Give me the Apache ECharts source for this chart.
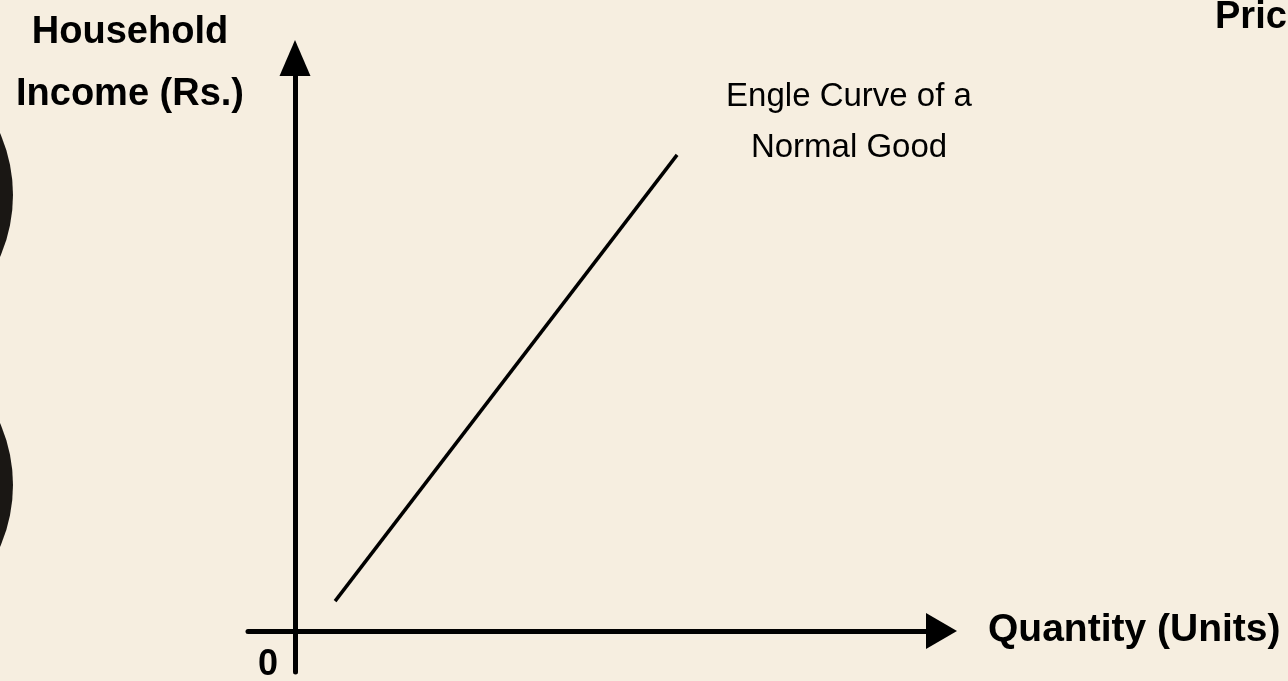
<!DOCTYPE html>
<html>
<head>
<meta charset="utf-8">
<title>Engle Curve</title>
<script src="https://cdn.jsdelivr.net/npm/echarts@6/dist/echarts.min.js"></script>
<style>
  html, body { margin: 0; padding: 0; background: #F6EEE0; }
  #main { width: 1288px; height: 681px; }
</style>
</head>
<body>
<div id="main"></div>
<script>
// Engle curve values
var quantity = [6.2, 59.1];
var income = [5.2, 83.1];
var xRange = [-7.27, 100];
var yRange = [-7.16, 100];

var FONT = '"Liberation Sans", Arial, sans-serif';
var INK = '#000';

var chart = echarts.init(document.getElementById('main'));

var lineData = [];
for (var i = 0; i < quantity.length; i++) {
  lineData.push([quantity[i], income[i]]);
}

function label(txt, x, y, size, bold, align) {
  return {
    type: 'text', x: x, y: y,
    style: {
      text: txt,
      font: (bold ? 'bold ' : '') + size + 'px ' + FONT,
      fill: INK,
      textAlign: align || 'center',
      textVerticalAlign: 'middle'
    }
  };
}

var option = {
  backgroundColor: '#F6EEE0',
  animation: false,
  grid: { left: 248, right: 346.5, top: 58, bottom: 9 },
  xAxis: {
    type: 'value',
    min: xRange[0], max: xRange[1],
    axisLine: {
      onZero: true,
      symbol: ['none', 'triangle'],
      symbolSize: [36, 31],
      lineStyle: { color: INK, width: 5 }
    },
    axisTick: { show: false },
    axisLabel: { show: false },
    splitLine: { show: false }
  },
  yAxis: {
    type: 'value',
    min: yRange[0], max: yRange[1],
    axisLine: {
      show: true,
      onZero: true,
      symbol: ['none', 'triangle'],
      symbolSize: [31, 36],
      lineStyle: { color: INK, width: 5 }
    },
    axisTick: { show: false },
    axisLabel: { show: false },
    splitLine: { show: false }
  },
  series: [{
    type: 'line',
    data: lineData,
    symbol: 'none',
    lineStyle: { color: INK, width: 3.5 }
  }],
  graphic: [
    // edges of a large glyph cut off at the left border
    { type: 'circle', shape: { cx: -141, cy: 195, r: 154 }, style: { fill: '#1a1714' } },
    { type: 'circle', shape: { cx: -141, cy: 485, r: 154 }, style: { fill: '#1a1714' } },
    label('Household', 130, 33, 38, true),
    label('Income (Rs.)', 130, 95, 38, true),
    label('Engle Curve of a', 849, 97, 33, false),
    label('Normal Good', 849, 148, 33, false),
    label('Quantity (Units)', 988, 630, 39, true, 'left'),
    label('Price', 1215, 18, 38, true, 'left'),
    label('0', 268, 665, 36, true)
  ]
};

chart.setOption(option);
</script>
</body>
</html>
